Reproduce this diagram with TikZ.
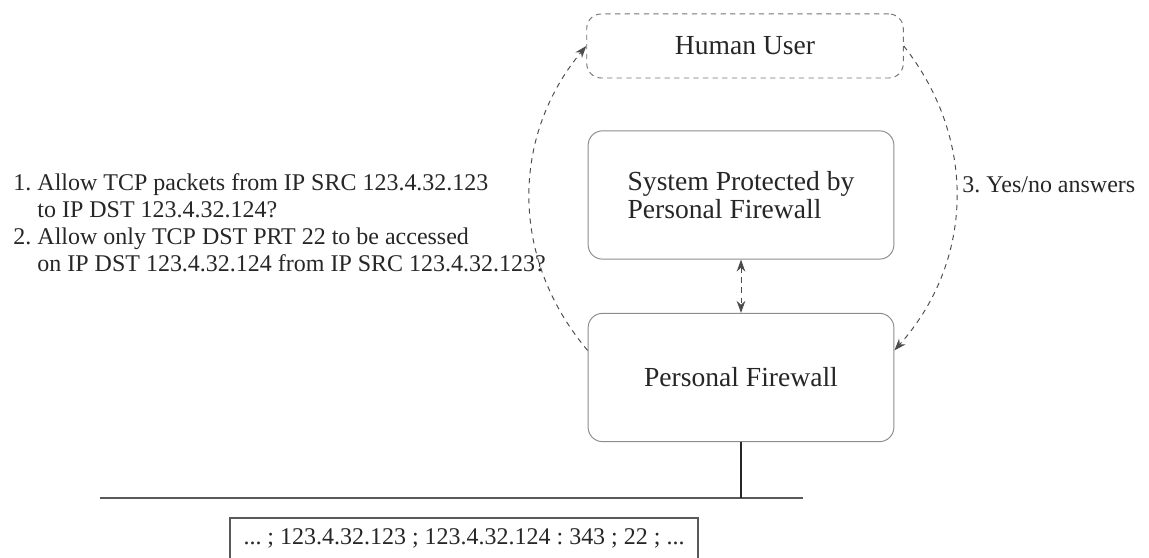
\documentclass[tikz,border=0pt]{standalone}
\usepackage{fontspec}
\setmainfont{Liberation Serif}
\usepackage{xcolor}
\usetikzlibrary{arrows.meta, positioning, calc}
\tikzset{
  >={Stealth[length=5pt,width=3.6pt]},
  box/.style={draw=black!45, rounded corners=6pt, minimum width=127.5pt, minimum height=53.5pt, text=black!85, font=\fontsize{11.5}{11.8}\selectfont},
  userbox/.style={box, draw=black!55, dash pattern=on 2.2pt off 1.8pt, minimum width=132pt, minimum height=26.7pt},
  flow/.style={draw=black!70, dash pattern=on 2.2pt off 2pt, ->},
  net/.style={draw=black!65, line width=0.8pt},
  note/.style={inner sep=0pt, text=black!85, font=\fontsize{10}{11.3}\selectfont},
}
\begin{document}
\frenchspacing
\begin{tikzpicture}[x=0.417pt, y=0.417pt]
    \useasboundingbox (0,0) rectangle (1149,558);
    \clip (0,0) rectangle (1149,558);
    \node[userbox] (hu) at (745,512) {Human User};
    \node[box, align=left] (sys) at (741,363) {System Protected by\\Personal Firewall};
    \node[box] (pfw) at (741,180.5) {Personal Firewall};
    \node[note, anchor=west, align=left] (ask) at (13,335.5) {1. Allow TCP packets from IP SRC 123.4.32.123\\\phantom{1. }to IP DST 123.4.32.124?\\2. Allow only TCP DST PRT 22 to be accessed\\\phantom{2. }on IP DST 123.4.32.124 from IP SRC 123.4.32.123?};
    \node[note, anchor=west] (ans) at (962,373) {3. Yes/no answers};
    \draw[flow] (pfw.170) to[bend left=40] (hu.west);
    \draw[flow] (hu.east) to[bend left=40] (pfw.10);
    \draw[flow, <->] (sys) -- (pfw);
    \coordinate (netl) at (100,60);
    \coordinate (netr) at (803,60);
    \draw[net] (netl) -- (netr);
    \draw[net, draw=black!85] (pfw.south) -- (pfw.south |- netl);
    \node[anchor=north, draw=black!65, line width=0.8pt, minimum width=195pt, inner ysep=3.5pt, text height=7.5pt, text depth=10pt, text=black!85, font=\fontsize{10}{12}\selectfont] (pkt) at (464,41) {... ; 123.4.32.123 ; 123.4.32.124 : 343 ; 22 ; ...};
\end{tikzpicture}
\end{document}
